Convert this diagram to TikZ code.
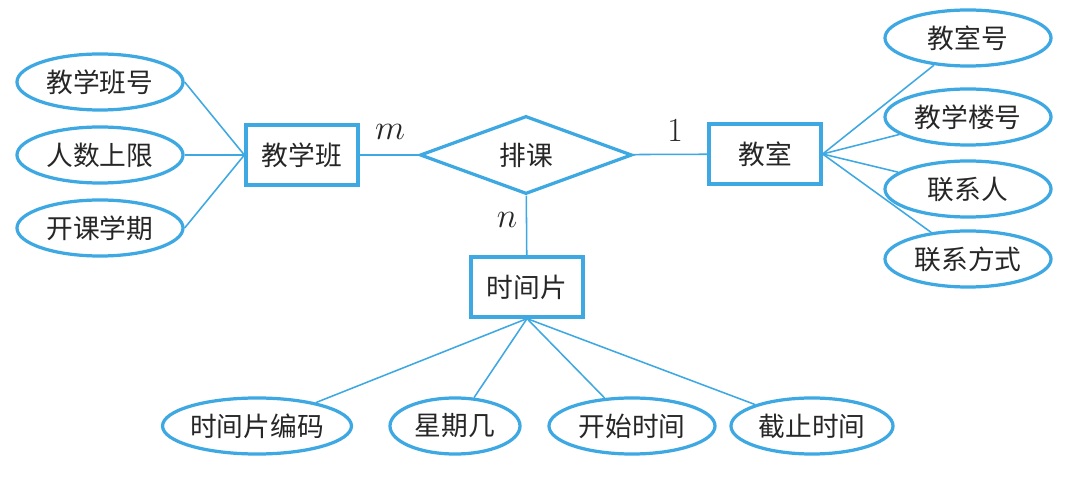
\documentclass[tikz,border=0pt]{standalone}
\usepackage{fontspec}
\newfontfamily\cjk{Noto Sans CJK SC}
\usepackage{tikz}
\usetikzlibrary{shapes.geometric}
\definecolor{erblue}{RGB}{62,168,226}

\begin{document}
\begin{tikzpicture}[
  x=0.025cm,y=-0.025cm,
  every path/.style={draw=erblue,line width=1.1pt},
  entity/.style={rectangle,draw=erblue,line width=2.3pt,fill=white,
    inner sep=0pt,minimum width=2.8cm,minimum height=1.5cm,
    font=\cjk\fontsize{19}{22}\selectfont,text=black!85},
  relation/.style={diamond,draw=erblue,line width=2.3pt,fill=white,
    inner sep=0pt,minimum width=5.3cm,minimum height=1.83cm,
    font=\cjk\fontsize{19}{22}\selectfont,text=black!85},
  attr/.style={ellipse,draw=erblue,line width=2.3pt,fill=white,
    inner sep=0pt,minimum width=4.15cm,minimum height=1.4cm,
    font=\cjk\fontsize{19}{22}\selectfont,text=black!85},
  card/.style={draw=none,font=\fontsize{24}{26}\selectfont,text=black!85}]

\path[use as bounding box,draw=none] (0,0) rectangle (1080,478);

\node[entity] (banji) at (302,155) {教学班};
\node[relation] (paike) at (526,155) {排课};
\node[entity] (jiaoshi) at (765,154) {教室};
\node[entity] (shijian) at (527,287) {时间片};

\node[attr] (banhao) at (100,82) {教学班号};
\node[attr] (renshu) at (100,155) {人数上限};
\node[attr] (xueqi) at (100,228) {开课学期};

\node[attr] (shihao) at (968,38) {教室号};
\node[attr] (louhao) at (968,117) {教学楼号};
\node[attr] (lianxiren) at (968,189) {联系人};
\node[attr] (fangshi) at (968,259) {联系方式};

\node[attr,minimum width=4.45cm] (bianma) at (257,426) {时间片编码};
\node[attr,minimum width=3.25cm] (xingqi) at (455,426) {星期几};
\node[attr] (kaishi) at (632,426) {开始时间};
\node[attr,minimum width=4.05cm] (jiezhi) at (812,426) {截止时间};

\node[card] (m) at (390,132) {$m$};
\node[card] (one) at (675,130) {1};
\node[card] (n) at (507,220) {$n$};

\draw (banhao.east) -- (banji.west);
\draw (renshu) -- (banji.west);
\draw (xueqi.east) -- (banji.west);
\draw (banji) -- (paike);
\draw (paike) -- (jiaoshi);
\draw (paike) -- (shijian);
\draw (jiaoshi.east) -- (shihao);
\draw (jiaoshi.east) -- (louhao);
\draw (jiaoshi.east) -- (lianxiren);
\draw (jiaoshi.east) -- (fangshi);
\draw (shijian.south) -- (bianma);
\draw (shijian.south) -- (xingqi);
\draw (shijian.south) -- (kaishi);
\draw (shijian.south) -- (jiezhi);
\end{tikzpicture}
\end{document}
